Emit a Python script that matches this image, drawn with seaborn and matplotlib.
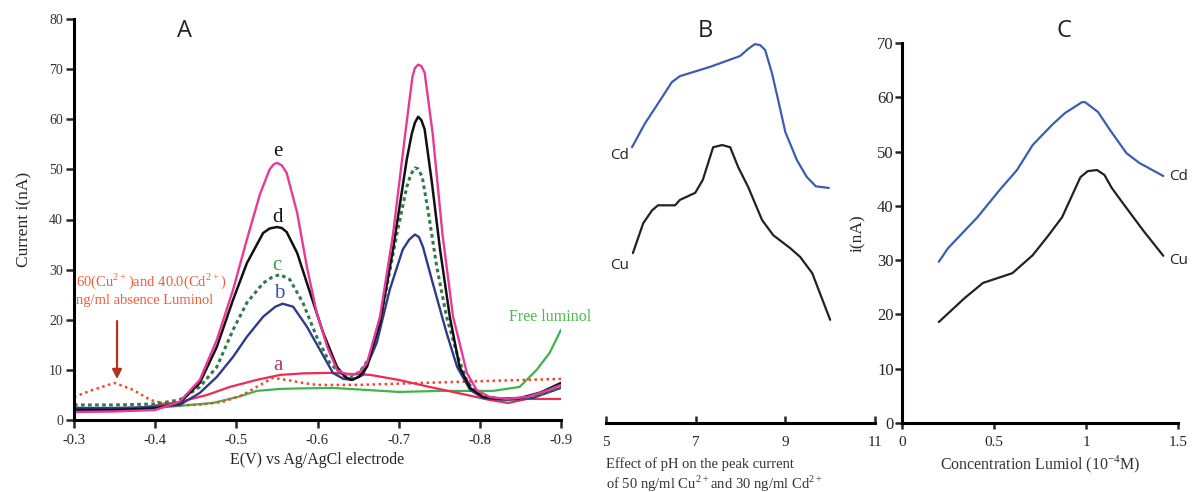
import numpy as np
import pandas as pd
import matplotlib
matplotlib.use("Agg")
import matplotlib.pyplot as plt
import seaborn as sns

# ---------------- data ----------------
# panel A : voltammograms, E in V, current in nA
E_e = [-0.30, -0.35, -0.40, -0.43, -0.455, -0.476, -0.496, -0.513, -0.529, -0.541, -0.546, -0.55, -0.556,
       -0.562, -0.575, -0.587, -0.599, -0.612, -0.624, -0.634, -0.644, -0.652, -0.661, -0.677, -0.693,
       -0.708, -0.717, -0.72, -0.724, -0.728, -0.732, -0.742, -0.754, -0.767, -0.775, -0.784, -0.796,
       -0.812, -0.833, -0.858, -0.878, -0.90]
I_e = [1.6, 1.7, 2.0, 3.6, 8, 16, 26, 36, 45, 50, 51.0, 51.3, 50.8, 49.3, 41.3, 30.5, 21.4, 14.6, 10, 9.2,
       9, 9.6, 11.4, 20.6, 37, 57, 68.5, 70.2, 70.9, 70.6, 69.3, 57, 37, 20.6, 15.4, 9.4, 6, 4.6, 4.2,
       4.6, 5.6, 7]

E_d = [-0.30, -0.35, -0.40, -0.43, -0.455, -0.476, -0.496, -0.513, -0.533, -0.541, -0.55, -0.556, -0.562,
       -0.575, -0.591, -0.607, -0.624, -0.634, -0.642, -0.651, -0.661, -0.677, -0.693, -0.71, -0.716,
       -0.72, -0.724, -0.728, -0.732, -0.741, -0.751, -0.763, -0.775, -0.788, -0.804, -0.825, -0.85,
       -0.875, -0.90]
I_d = [2.0, 2.0, 2.3, 3.4, 7.4, 14.6, 24, 31.3, 37.3, 38.2, 38.5, 38.3, 37.5, 33.3, 25.3, 17.4, 10.6, 8.6,
       8, 8.6, 10.6, 19.4, 34, 52, 57, 59.3, 60.5, 59.8, 58, 47.3, 34, 20.6, 10.6, 6.4, 4.6, 4.2, 4.4,
       5.5, 7.4]

E_c = [-0.30, -0.35, -0.40, -0.43, -0.455, -0.476, -0.496, -0.513, -0.533, -0.545, -0.554, -0.566, -0.582,
       -0.599, -0.615, -0.63, -0.64, -0.652, -0.665, -0.68, -0.698, -0.71, -0.715, -0.72, -0.724, -0.729,
       -0.736, -0.747, -0.759, -0.773, -0.785, -0.80, -0.825, -0.85, -0.875, -0.90]
I_c = [3.0, 3.0, 3.2, 4, 6.6, 10.6, 18, 23.4, 27.3, 28.6, 29, 28, 23.4, 16.6, 11.4, 9, 8.4, 9.6, 12.6, 22,
       37.3, 46.5, 49, 50.3, 50.1, 48.5, 42, 30.5, 20.6, 12.6, 7.4, 5, 4.2, 4.2, 5.2, 6.6]

E_b = [-0.30, -0.35, -0.40, -0.43, -0.455, -0.476, -0.496, -0.513, -0.533, -0.548, -0.557, -0.57, -0.587,
       -0.603, -0.619, -0.632, -0.643, -0.656, -0.673, -0.689, -0.705, -0.713, -0.72, -0.725, -0.73,
       -0.742, -0.759, -0.772, -0.788, -0.804, -0.833, -0.865, -0.90]
I_b = [2.4, 2.4, 2.6, 3, 5.4, 8.6, 12.6, 16.6, 20.6, 22.6, 23.2, 22.6, 18.6, 14, 9.4, 8.2, 8, 9, 15.4, 26,
       34, 36, 37, 36.5, 34.5, 27.3, 17.4, 10.6, 6, 4.4, 4, 4.4, 6.4]

E_a = [-0.30, -0.37, -0.43, -0.464, -0.492, -0.525, -0.554, -0.582, -0.615, -0.665, -0.70, -0.738,
       -0.784, -0.812, -0.835, -0.858, -0.90]
I_a = [1.8, 2.2, 3.6, 5, 6.6, 8, 9, 9.3, 9.4, 9, 8, 6.6, 5, 4, 3.4, 4.2, 4.2]

# 60 Cu / 40 Cd without luminol
E_abs = [-0.30, -0.323, -0.35, -0.373, -0.394, -0.418, -0.451, -0.483, -0.508, -0.525, -0.545, -0.562,
         -0.582, -0.60, -0.65, -0.73, -0.812, -0.90]
I_abs = [4.6, 6, 7.4, 6, 4, 3, 3, 3.6, 5, 6.6, 8.4, 8, 7.4, 7, 7, 7.4, 7.8, 8.2]

E_free = [-0.30, -0.40, -0.471, -0.502, -0.525, -0.554, -0.578, -0.619, -0.70, -0.751, -0.816, -0.849,
          -0.87, -0.886, -0.90]
I_free = [2.0, 2.4, 3.4, 4.6, 5.8, 6.2, 6.3, 6.4, 5.6, 5.8, 5.8, 6.6, 10, 13.4, 18]

# panel B : effect of pH
pH_cd = [5.58, 5.87, 6.14, 6.47, 6.65, 7.32, 7.99, 8.17, 8.32, 8.44, 8.55, 8.70, 8.84, 9.0, 9.26, 9.48, 9.68, 9.97]
Icd_pH = [50.8, 55.2, 58.6, 62.8, 63.9, 65.6, 67.6, 68.9, 69.8, 69.6, 68.7, 64.5, 59.5, 53.6, 48.4, 45.3, 43.6, 43.3]
pH_cu = [5.60, 5.83, 6.03, 6.16, 6.54, 6.65, 6.99, 7.16, 7.39, 7.59, 7.77, 7.95, 8.17, 8.48, 8.73, 9.11,
         9.33, 9.60, 10.0]
Icu_pH = [31.3, 36.8, 39.2, 40.1, 40.1, 41.1, 42.4, 44.8, 50.8, 51.2, 50.8, 47.1, 43.5, 37.4, 34.6, 32.2,
          30.6, 27.6, 19.0]

# panel C : luminol concentration (1e-4 M)
conc_cd = [0.20, 0.25, 0.41, 0.53, 0.625, 0.71, 0.815, 0.886, 0.978, 0.995, 1.065, 1.13, 1.22, 1.29, 1.42]
Icd_conc = [29.7, 32.2, 37.9, 42.9, 46.6, 51.2, 54.9, 57.1, 59.1, 59.1, 57.3, 54.0, 49.7, 47.9, 45.5]
conc_cu = [0.20, 0.34, 0.44, 0.52, 0.60, 0.71, 0.79, 0.87, 0.97, 1.01, 1.06, 1.10, 1.14, 1.22, 1.31, 1.42]
Icu_conc = [18.6, 23.0, 25.8, 26.7, 27.6, 30.9, 34.3, 37.9, 45.3, 46.4, 46.6, 45.7, 43.3, 39.6, 35.5, 30.8]

A_xticks = [-0.3, -0.4, -0.5, -0.6, -0.7, -0.8, -0.9]
A_yticks = [0, 10, 20, 30, 40, 50, 60, 70, 80]
B_xticks = [5, 7, 9, 11]
C_xticks = [0, 0.5, 1, 1.5]
C_xlabels = ["0", "0.5", "1", "1.5"]
C_yticks = [0, 10, 20, 30, 40, 50, 60, 70]

# ---------------- style ----------------
sns.set_style("ticks")
plt.rcParams["font.family"] = ["Liberation Serif", "DejaVu Serif"]
plt.rcParams["axes.unicode_minus"] = False
plt.rcParams["mathtext.fontset"] = "custom"
plt.rcParams["mathtext.rm"] = "Liberation Serif"
plt.rcParams["lines.solid_joinstyle"] = "round"
plt.rcParams["lines.solid_capstyle"] = "round"

SANS = ["Open Sans", "DejaVu Sans"]
PINK, BLACK, DGREEN, NAVY = "#e8399b", "#111111", "#2f7a48", "#2e3a8c"
RED, RED_DOT, GREEN = "#ee2a55", "#f4442c", "#3db54a"
BLUE = "#3b5eb2"

fig = plt.figure(figsize=(11.94, 4.92), dpi=100)
axA = fig.add_axes([74 / 1194, 72 / 492, 487 / 1194, 401 / 492])
axB = fig.add_axes([606 / 1194, 69 / 492, 269 / 1194, 380 / 492])
axC = fig.add_axes([902 / 1194, 69 / 492, 276 / 1194, 380 / 492])

# ---------------- panel A ----------------
curvesA = [
    (E_free, I_free, GREEN, "-", 1.6),
    (E_abs, I_abs, RED_DOT, (0, (1, 1.4)), 1.8),
    (E_a, I_a, RED, "-", 1.6),
    (E_b, I_b, NAVY, "-", 1.7),
    (E_c, I_c, DGREEN, (0, (1.2, 1.1)), 2.2),
    (E_d, I_d, BLACK, "-", 1.8),
    (E_e, I_e, PINK, "-", 1.7),
]
for ex, iy, col, ls, lw in curvesA:
    sns.lineplot(x=ex, y=iy, ax=axA, color=col, linestyle=ls, linewidth=lw, sort=False)

axA.set_xlim(-0.3, -0.9)
axA.set_ylim(0, 80)
axA.set_xticks(A_xticks)
axA.set_xticklabels([f"{t:.1f}" for t in A_xticks])
axA.set_yticks(A_yticks)
axA.tick_params(axis="x", labelsize=10.5, length=6, width=1.8, pad=4)
axA.tick_params(axis="y", labelsize=10, length=6, width=1.8, pad=2, labelcolor="#333333")
axA.set_xlabel("E(V) vs Ag/AgCl electrode", fontsize=11.5)
axA.set_ylabel("Current i(nA)", fontsize=12.5, labelpad=12)
sns.despine(ax=axA)
for s in ["left", "bottom"]:
    axA.spines[s].set_linewidth(2.2)
    axA.spines[s].set_color("black")

for lab, col, (xx, yy) in zip(["e", "d", "c", "b", "a"],
                              [BLACK, BLACK, "#2aa14a", "#3b4fb0", "#b8355a"],
                              [(-0.5505, 53.6), (-0.551, 40.4), (-0.5505, 30.8), (-0.5525, 25.3),
                               (-0.551, 10.8)]):
    axA.text(xx, yy, lab, color=col, fontsize=15, ha="center", va="center")

axA.text(-0.303, 22.5, "60(Cu$^{2+}$)and 40.0(Cd$^{2+}$)\nng/ml absence Luminol",
         color="#ee5f3c", fontsize=10.5, ha="left", va="bottom", linespacing=1.35)
axA.annotate("", xy=(-0.353, 7.6), xytext=(-0.353, 20.3),
             arrowprops=dict(arrowstyle="-|>", color="#b5321f", lw=1.6, mutation_scale=14))
axA.text(-0.8365, 20.6, "Free luminol", color="#4cba4c", fontsize=11.5, ha="left", va="center",
         clip_on=False)

# ---------------- panel B ----------------
sns.lineplot(x=pH_cd, y=Icd_pH, ax=axB, color=BLUE, linewidth=1.6, sort=False)
sns.lineplot(x=pH_cu, y=Icu_pH, ax=axB, color="#222222", linewidth=1.6, sort=False)
axB.set_xlim(5, 11)
axB.set_ylim(0, 70)
axB.set_xticks(B_xticks)
axB.set_yticks([])
axB.tick_params(axis="x", direction="in", length=5, width=1.8, labelsize=11, pad=9)
sns.despine(ax=axB, left=True)
axB.spines["bottom"].set_linewidth(2.2)
axB.spines["bottom"].set_color("black")
axB.text(5.51, 49.2, "Cd", fontsize=11, family=SANS, ha="right", va="center", color="#222222")
axB.text(5.51, 29.0, "Cu", fontsize=11, family=SANS, ha="right", va="center", color="#222222")
axB.text(0.0, -0.09, "Effect of pH on the peak current\nof 50 ng/ml Cu$^{2+}$and 30 ng/ml Cd$^{2+}$",
         transform=axB.transAxes, fontsize=10.5, ha="left", va="top", linespacing=1.15, color="#333333")

# ---------------- panel C ----------------
sns.lineplot(x=conc_cd, y=Icd_conc, ax=axC, color=BLUE, linewidth=1.6, sort=False)
sns.lineplot(x=conc_cu, y=Icu_conc, ax=axC, color="#222222", linewidth=1.6, sort=False)
axC.set_xlim(0, 1.5)
axC.set_ylim(0, 70)
axC.set_xticks(C_xticks)
axC.set_xticklabels(C_xlabels)
axC.set_yticks(C_yticks)
axC.tick_params(axis="x", length=4, width=1.8, labelsize=11, pad=5)
axC.tick_params(axis="y", length=5, width=1.8, labelsize=12, pad=1)
axC.set_xlabel("Concentration Lumiol (10$^{-4}$M)", fontsize=11.5, color="#333333")
axC.set_ylabel("i(nA)", fontsize=12.5, labelpad=8)
sns.despine(ax=axC)
for s in ["left", "bottom"]:
    axC.spines[s].set_linewidth(2.2)
    axC.spines[s].set_color("black")
axC.text(1.45, 45.5, "Cd", fontsize=11, family=SANS, ha="left", va="center", color="#222222")
axC.text(1.45, 30.0, "Cu", fontsize=11, family=SANS, ha="left", va="center", color="#222222")

# panel letters
for lab, xp in [("A", 185), ("B", 705), ("C", 1064)]:
    fig.text(xp / 1194, 1 - 31 / 492, lab, fontsize=17, family=SANS, ha="center", va="center", color="#222222")

fig.savefig("out.png", dpi=100)
